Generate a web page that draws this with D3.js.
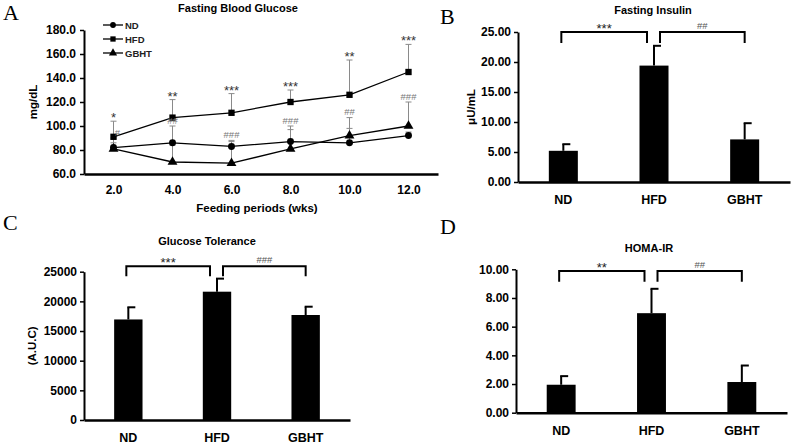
<!DOCTYPE html>
<html><head><meta charset="utf-8">
<script src="https://cdn.jsdelivr.net/npm/d3@7"></script>
<style>
body{margin:0;background:#fff;}
svg{display:block;font-family:"Liberation Sans",Arial,sans-serif;}
</style></head>
<body><svg id="c" width="794" height="444"></svg>
<script>
// ---- Panel A data ----
const weeks = [2, 4, 6, 8, 10, 12];
const weekTicks = [2, 4, 6, 8, 10, 12];
const glucoseTicks = [60, 80, 100, 120, 140, 160, 180];
const ndGlucose = [82, 86, 83, 87, 86, 92];
const ndGlucoseErr = [4, 14, 5, 10, 12, 3];
const hfdGlucose = [91, 107, 111, 120, 126, 145];
const hfdGlucoseErr = [13, 15, 16, 10, 29, 23];
const gbhtGlucose = [81, 70, 69, 81, 92, 100];
const gbhtGlucoseErr = [9, 14, 18, 19, 15, 20];
const starMarksA = ["*", "**", "***", "***", "**", "***"];
const hashMarksA = ["#", "##", "###", "###", "##", "###"];

// ---- Bar panels data ----
const groups = ["ND", "HFD", "GBHT"];
const insulin = [5.2, 19.4, 7.1];
const insulinErr = [1.1, 3.3, 2.7];
const insulinTicks = [0, 5, 10, 15, 20, 25];
const auc = [16950, 21630, 17700];
const aucErr = [2050, 2200, 1400];
const aucTicks = [0, 5000, 10000, 15000, 20000, 25000];
const homa = [1.95, 6.94, 2.14];
const homaErr = [0.6, 1.7, 1.15];
const homaTicks = [0, 2, 4, 6, 8, 10];
const insulinSig = ["***", "##"];
const aucSig = ["***", "###"];
const homaSig = ["**", "##"];

const svg = d3.select("#c");
const TICK_FS = 12;

// panel letters
const letters = [["A", 3, 20], ["B", 440, 24], ["C", 3, 230], ["D", 440, 234]];
svg.selectAll("text.letter").data(letters).join("text")
  .attr("class", "letter").attr("x", d => d[1]).attr("y", d => d[2])
  .attr("font-family", "'Liberation Serif','DejaVu Serif',serif")
  .attr("font-size", 22).attr("fill", "#000").text(d => d[0]);

// ---------- Panel A ----------
(function () {
  const x = d3.scaleLinear().domain([1, 13]).range([84, 438]);
  const y = d3.scaleLinear().domain([60, 180]).range([174, 30]);
  const g = svg.append("g");
  g.append("text").attr("x", 238).attr("y", 12).attr("text-anchor", "middle")
    .attr("font-weight", "bold").attr("font-size", 11).text("Fasting Blood Glucose");

  const ya = g.append("g").attr("transform", "translate(84,0)")
    .call(d3.axisLeft(y).tickValues(glucoseTicks).tickFormat(d3.format(".1f")).tickSize(4).tickSizeOuter(0));
  ya.select(".domain").attr("stroke-width", 2);
  ya.selectAll(".tick line").attr("stroke-width", 1.5);
  ya.selectAll("text").attr("font-weight", "bold").attr("font-size", TICK_FS)
    .attr("font-family", "'Liberation Sans',Arial,sans-serif").attr("x", -8);

  const xa = g.append("g").attr("transform", "translate(0,174)")
    .call(d3.axisBottom(x).tickValues(weekTicks).tickFormat(d3.format(".1f")).tickSize(0).tickSizeOuter(0));
  xa.select(".domain").attr("stroke-width", 2.5);
  xa.selectAll("text").attr("font-weight", "bold").attr("font-size", TICK_FS)
    .attr("font-family", "'Liberation Sans',Arial,sans-serif").attr("dy", "1.45em");

  g.append("text").attr("x", 257).attr("y", 212).attr("text-anchor", "middle")
    .attr("font-weight", "bold").attr("font-size", 11.5).text("Feeding periods (wks)");
  g.append("text").attr("transform", "translate(37,102) rotate(-90)").attr("text-anchor", "middle")
    .attr("font-weight", "bold").attr("font-size", 11.5).text("mg/dL");

  const series = [
    { name: "ND", mean: ndGlucose, err: ndGlucoseErr, sym: d3.symbolCircle, size: 38 },
    { name: "HFD", mean: hfdGlucose, err: hfdGlucoseErr, sym: d3.symbolSquare, size: 40 },
    { name: "GBHT", mean: gbhtGlucose, err: gbhtGlucoseErr, sym: d3.symbolTriangle, size: 42 }
  ];
  // error bars (upper only)
  series.forEach(s => {
    const eb = g.append("g").attr("stroke", "#8a8a8a").attr("stroke-width", 1);
    weeks.forEach((w, i) => {
      const top = y(s.mean[i] + s.err[i]);
      eb.append("line").attr("x1", x(w)).attr("x2", x(w)).attr("y1", y(s.mean[i])).attr("y2", top);
      eb.append("line").attr("x1", x(w) - 3).attr("x2", x(w) + 3).attr("y1", top).attr("y2", top);
    });
  });
  const line = d3.line().x((d, i) => x(weeks[i])).y(d => y(d));
  series.forEach(s => {
    g.append("path").datum(s.mean).attr("d", line).attr("fill", "none")
      .attr("stroke", "#000").attr("stroke-width", 1.3);
    g.selectAll(null).data(s.mean).join("path")
      .attr("transform", (d, i) => `translate(${x(weeks[i])},${y(d)})`)
      .attr("d", d3.symbol(s.sym, s.size)).attr("fill", "#000");
  });
  // significance marks
  weeks.forEach((w, i) => {
    const hTop = y(hfdGlucose[i] + hfdGlucoseErr[i]);
    g.append("text").attr("x", x(w)).attr("y", hTop + 1).attr("text-anchor", "middle")
      .attr("font-size", 13).attr("fill", "#333").text(starMarksA[i]);
    const lTop = Math.min(y(ndGlucose[i] + ndGlucoseErr[i]), y(gbhtGlucose[i] + gbhtGlucoseErr[i]));
    g.append("text").attr("x", x(w) + (i === 0 ? 4 : 0)).attr("y", lTop - 2.5).attr("text-anchor", "middle")
      .attr("font-size", 9.5).attr("fill", "#777").text(hashMarksA[i]);
  });
  // legend
  const lg = g.append("g");
  series.forEach((s, i) => {
    const ly = 25 + i * 14;
    lg.append("line").attr("x1", 103).attr("x2", 123).attr("y1", ly).attr("y2", ly)
      .attr("stroke", "#000").attr("stroke-width", 1.3);
    lg.append("path").attr("transform", `translate(113,${ly})`).attr("d", d3.symbol(s.sym, s.size * 0.7)).attr("fill", "#000");
    lg.append("text").attr("x", 125).attr("y", ly + 3.5).attr("font-size", 9.5).attr("font-weight", "bold")
      .attr("fill", "#222").text(s.name);
  });
})();

// ---------- Bar panels ----------
function barPanel(o) {
  const g = svg.append("g");
  const x = d3.scaleBand().domain(groups).range([o.x0, o.x1]).paddingInner(0.68).paddingOuter(0.34);
  const y = d3.scaleLinear().domain([0, o.max]).range([o.yb, o.yt]);
  g.append("text").attr("x", o.tx).attr("y", o.ty).attr("text-anchor", "middle")
    .attr("font-weight", "bold").attr("font-size", 11).text(o.title);
  const ya = g.append("g").attr("transform", `translate(${o.x0},0)`)
    .call(d3.axisLeft(y).tickValues(o.ticks).tickFormat(o.fmt).tickSize(4).tickSizeOuter(0));
  ya.select(".domain").attr("stroke-width", 2);
  ya.selectAll(".tick line").attr("stroke-width", 1.5);
  ya.selectAll("text").attr("font-weight", "bold").attr("font-size", TICK_FS)
    .attr("font-family", "'Liberation Sans',Arial,sans-serif").attr("x", -7);
  const xa = g.append("g").attr("transform", `translate(0,${o.yb})`)
    .call(d3.axisBottom(x).tickSize(0).tickSizeOuter(0));
  xa.select(".domain").attr("stroke-width", 2.5);
  xa.selectAll("text").attr("font-weight", "bold").attr("font-size", 12.5)
    .attr("font-family", "'Liberation Sans',Arial,sans-serif").attr("dy", "1.55em");
  g.append("text").attr("transform", `translate(${o.lx},${(o.yb + o.yt) / 2}) rotate(-90)`)
    .attr("text-anchor", "middle").attr("font-weight", "bold").attr("font-size", 11.5).text(o.ylabel);

  // error bars
  g.selectAll(null).data(o.vals).join("line")
    .attr("x1", (d, i) => x(groups[i]) + x.bandwidth() / 2).attr("x2", (d, i) => x(groups[i]) + x.bandwidth() / 2)
    .attr("y1", d => y(d)).attr("y2", (d, i) => y(d + o.errs[i]))
    .attr("stroke", "#000").attr("stroke-width", 2);
  g.selectAll(null).data(o.vals).join("line")
    .attr("x1", (d, i) => x(groups[i]) + x.bandwidth() / 2 - 1).attr("x2", (d, i) => x(groups[i]) + x.bandwidth() / 2 + 7)
    .attr("y1", (d, i) => y(d + o.errs[i])).attr("y2", (d, i) => y(d + o.errs[i]))
    .attr("stroke", "#000").attr("stroke-width", 2);
  g.selectAll(null).data(o.vals).join("rect")
    .attr("x", (d, i) => x(groups[i])).attr("width", x.bandwidth())
    .attr("y", d => y(d)).attr("height", d => o.yb - y(d)).attr("fill", "#000");

  // brackets
  const bTop = y(o.max) + o.bOff, bLeg = bTop + o.bLeg;
  const c = i => x(groups[i]) + x.bandwidth() / 2;
  const pairs = [[c(0) - 2, c(1) - 7], [c(1) + 6, c(2)]];
  pairs.forEach((p, k) => {
    g.append("path").attr("d", `M${p[0]},${bLeg}V${bTop}H${p[1]}V${bLeg}`)
      .attr("fill", "none").attr("stroke", "#000").attr("stroke-width", 2);
    const isStar = o.sig[k].startsWith("*");
    g.append("text").attr("x", (p[0] + p[1]) / 2).attr("y", isStar ? bTop + 1 : bTop - 3)
      .attr("text-anchor", "middle")
      .attr("font-size", isStar ? 13 : 9.5).attr("fill", isStar ? "#222" : "#555").text(o.sig[k]);
  });
}

barPanel({ title: "Fasting Insulin", tx: 653, ty: 14, x0: 518, x1: 790, yb: 182, yt: 32, max: 25,
  ticks: insulinTicks, fmt: d3.format(".2f"), vals: insulin, errs: insulinErr, ylabel: "μU/mL", lx: 475,
  sig: insulinSig, bOff: 0, bLeg: 11 });
barPanel({ title: "Glucose Tolerance", tx: 207, ty: 245, x0: 84, x1: 350, yb: 420, yt: 271.7, max: 25000,
  ticks: aucTicks, fmt: d3.format("d"), vals: auc, errs: aucErr, ylabel: "(A.U.C)", lx: 36,
  sig: aucSig, bOff: -5.5, bLeg: 10 });
barPanel({ title: "HOMA-IR", tx: 649, ty: 252, x0: 516, x1: 787, yb: 412.7, yt: 269.3, max: 10,
  ticks: homaTicks, fmt: d3.format(".2f"), vals: homa, errs: homaErr, ylabel: "", lx: 475,
  sig: homaSig, bOff: 1.7, bLeg: 10.7 });
</script></body></html>
